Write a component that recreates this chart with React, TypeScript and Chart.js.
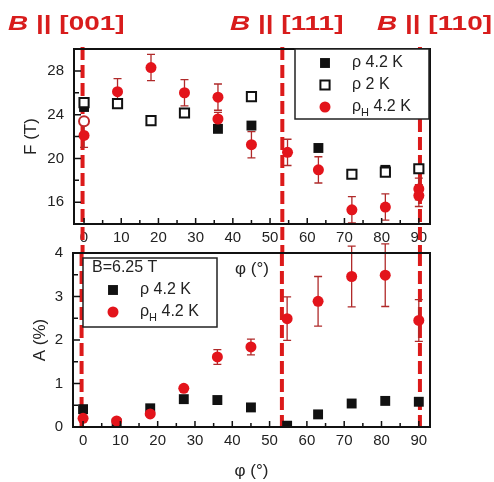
import React, { useEffect, useRef } from 'react';
import { Chart, registerables } from 'chart.js';

Chart.register(...registerables);

const FONT = "'Liberation Sans', Arial, sans-serif";
const RED = '#e3141b';
const ERR_COLOR = '#b02a2a';
const LINE_RED = '#dc1a1a';
const BLACK = '#111111';
const TEXT = '#222222';

// axis ticks
const xTicks = [0, 10, 20, 30, 40, 50, 60, 70, 80, 90];
const xMinorTicks = [5, 15, 25, 35, 45, 55, 65, 75, 85];
const fTicks = [16, 20, 24, 28];
const fMinorTicks = [18, 22, 26];
const aTicks = [0, 1, 2, 3, 4];
const aMinorTicks = [0.5, 1.5, 2.5, 3.5];

// field directions (dashed lines)
const fieldLines = [-0.4, 53.3, 90.3];
const fieldLabels = ['[001]', '[111]', '[110]'];

// top panel: F (T)
const fRho42Phi = [0, 36, 45, 63, 81];
const fRho42 = [24.7, 22.7, 23.0, 20.95, 18.95];
const fRho2Phi = [0, 9, 18, 27, 45, 72, 81, 90];
const fRho2 = [25.1, 25.0, 23.45, 24.15, 25.65, 18.55, 18.75, 19.05];
const fHallPhi = [0, 9, 18, 27, 36, 36, 45, 54.7, 63, 72, 81, 90, 90];
const fHall = [22.1, 26.1, 28.3, 26.0, 25.6, 23.6, 21.25, 20.55, 18.95, 15.3, 15.55, 17.2, 16.6];
const fHallErr = [1.1, 1.2, 1.2, 1.2, 1.2, 0.6, 1.2, 1.2, 1.2, 1.2, 1.2, 1.0, 1.0];
const fHallOpenPhi = [0];
const fHallOpen = [23.4];

// bottom panel: A (%)
const aPhi = [0, 9, 18, 27, 36, 45, 54.7, 63, 72, 81, 90];
const aRho = [0.41, 0.08, 0.43, 0.64, 0.62, 0.45, 0.03, 0.29, 0.54, 0.6, 0.58];
const aHall = [0.2, 0.14, 0.3, 0.89, 1.61, 1.84, 2.49, 2.89, 3.46, 3.49, 2.45];
const aHallErr = [0, 0, 0, 0.05, 0.17, 0.18, 0.5, 0.57, 0.7, 0.72, 0.48];

// legends
const topLegend = ['ρ 4.2 K', 'ρ 2 K', 'ρ_H 4.2 K'];
const bottomLegendHeader = 'B=6.25 T';
const bottomLegend = ['ρ 4.2 K', 'ρ_H 4.2 K'];

const pts = (xs: number[], ys: number[]) => xs.map((x, i) => ({ x, y: ys[i] }));

function drawRichText(ctx: CanvasRenderingContext2D, text: string, x: number, y: number, size: number) {
  ctx.textBaseline = 'middle';
  ctx.textAlign = 'left';
  ctx.fillStyle = TEXT;
  ctx.font = `${size}px ${FONT}`;
  const m = text.match(/^(.*?)_(\S)(.*)$/);
  if (!m) {
    ctx.fillText(text, x, y);
    return;
  }
  ctx.fillText(m[1], x, y);
  let cx = x + ctx.measureText(m[1]).width;
  ctx.font = `${Math.round(size * 0.68)}px ${FONT}`;
  ctx.fillText(m[2], cx, y + size * 0.38);
  cx += ctx.measureText(m[2]).width;
  ctx.font = `${size}px ${FONT}`;
  ctx.fillText(m[3], cx, y);
}

function drawMarker(ctx: CanvasRenderingContext2D, ds: any, x: number, y: number) {
  const r = ds.pointRadius;
  ctx.save();
  ctx.setLineDash([]);
  ctx.beginPath();
  if (ds.pointStyle === 'rect') {
    const s = Math.SQRT1_2 * r;
    ctx.rect(x - s, y - s, 2 * s, 2 * s);
  } else {
    ctx.arc(x, y, r, 0, Math.PI * 2);
  }
  ctx.fillStyle = ds.backgroundColor;
  ctx.fill();
  if (ds.borderWidth > 0) {
    ctx.lineWidth = ds.borderWidth;
    ctx.strokeStyle = ds.borderColor;
    ctx.stroke();
  }
  ctx.restore();
}

function makeScales(opts: {
  yMin: number; yMax: number; yTicks: number[]; yTitle: string; yTitlePad: number; yWidth: number;
  xHeight: number; xTitlePad: number;
}) {
  return {
    x: {
      type: 'linear' as const,
      min: -2.7,
      max: 93,
      afterBuildTicks: (a: any) => { a.ticks = xTicks.map((v) => ({ value: v })); },
      afterFit: (a: any) => { a.height = opts.xHeight; },
      grid: { display: false, drawTicks: false },
      border: { display: false },
      ticks: { padding: 5, autoSkip: false, maxRotation: 0, color: TEXT, font: { size: 15, family: FONT } },
      title: { display: true, text: 'φ (°)', color: TEXT, font: { size: 17, family: FONT }, padding: { top: 0, bottom: opts.xTitlePad } },
    },
    y: {
      type: 'linear' as const,
      min: opts.yMin,
      max: opts.yMax,
      afterBuildTicks: (a: any) => { a.ticks = opts.yTicks.map((v) => ({ value: v })); },
      afterFit: (a: any) => { a.width = opts.yWidth; },
      grid: { display: false, drawTicks: false },
      border: { display: false },
      ticks: { padding: 10, autoSkip: false, color: TEXT, font: { size: 15, family: FONT } },
      title: { display: true, text: opts.yTitle, color: TEXT, font: { size: 17, family: FONT }, padding: { top: opts.yTitlePad, bottom: 0 } },
    },
  };
}

function errorBarsPlugin() {
  return {
    id: 'errorBars',
    beforeDatasetsDraw(chart: any) {
      const { ctx, scales: { y } } = chart;
      ctx.save();
      ctx.strokeStyle = ERR_COLOR;
      ctx.lineWidth = 1.3;
      ctx.setLineDash([]);
      chart.data.datasets.forEach((ds: any, i: number) => {
        if (!ds.errors) return;
        const meta = chart.getDatasetMeta(i);
        meta.data.forEach((el: any, j: number) => {
          const e = ds.errors[j];
          if (!e) return;
          const v = ds.data[j].y;
          const y1 = y.getPixelForValue(v + e);
          const y2 = y.getPixelForValue(v - e);
          ctx.beginPath();
          ctx.moveTo(el.x, y1);
          ctx.lineTo(el.x, y2);
          ctx.moveTo(el.x - 4, y1);
          ctx.lineTo(el.x + 4, y1);
          ctx.moveTo(el.x - 4, y2);
          ctx.lineTo(el.x + 4, y2);
          ctx.stroke();
        });
      });
      ctx.restore();
    },
  };
}

function fieldLinesPlugin(getEnd: (chart: any) => number, startOffset: number) {
  return {
    id: 'fieldLines',
    beforeDatasetsDraw(chart: any) {
      const { ctx, chartArea: a, scales: { x } } = chart;
      const y0 = a.top - startOffset;
      const y1 = getEnd(chart);
      ctx.save();
      ctx.strokeStyle = LINE_RED;
      ctx.lineWidth = 4;
      ctx.setLineDash([13, 5]);
      fieldLines.forEach((v) => {
        const px = x.getPixelForValue(v);
        ctx.beginPath();
        ctx.moveTo(px, y0);
        ctx.lineTo(px, y1);
        ctx.stroke();
      });
      ctx.restore();
    },
  };
}

function frameLegendPlugin(cfg: {
  yMajor: number[]; yMinor: number[];
  legend: { anchor: 'right' | 'left'; dx: number; dy: number; w: number; h: number; header?: string; items: string[]; datasetIdx: number[] };
}) {
  return {
    id: 'frameLegend',
    afterDatasetsDraw(chart: any) {
      const { ctx, chartArea: a, scales: { x, y } } = chart;
      ctx.save();
      ctx.setLineDash([]);
      ctx.strokeStyle = BLACK;
      ctx.lineWidth = 1.5;
      ctx.beginPath();
      xTicks.forEach((v) => { const p = x.getPixelForValue(v); ctx.moveTo(p, a.bottom); ctx.lineTo(p, a.bottom - 6); });
      xMinorTicks.forEach((v) => { const p = x.getPixelForValue(v); ctx.moveTo(p, a.bottom); ctx.lineTo(p, a.bottom - 4); });
      cfg.yMajor.forEach((v) => { const p = y.getPixelForValue(v); ctx.moveTo(a.left, p); ctx.lineTo(a.left + 7, p); });
      cfg.yMinor.forEach((v) => { const p = y.getPixelForValue(v); ctx.moveTo(a.left, p); ctx.lineTo(a.left + 5, p); });
      ctx.stroke();
      ctx.lineWidth = 2;
      ctx.strokeRect(a.left, a.top, a.right - a.left, a.bottom - a.top);

      // legend
      const L = cfg.legend;
      const left = L.anchor === 'right' ? a.right - L.dx - L.w : a.left + L.dx;
      const top = a.top + L.dy;
      ctx.fillStyle = '#ffffff';
      ctx.fillRect(left, top, L.w, L.h);
      ctx.lineWidth = 1.5;
      ctx.strokeStyle = '#222';
      ctx.strokeRect(left, top, L.w, L.h);
      let rowY = top + 14;
      if (L.header) {
        drawRichText(ctx, L.header, left + 9, top + 10, 16);
        rowY = top + 32;
      }
      L.items.forEach((txt, k) => {
        const ds = chart.data.datasets[L.datasetIdx[k]];
        drawMarker(ctx, ds, left + 30, rowY);
        drawRichText(ctx, txt, left + 57, rowY, 16);
        rowY += 22;
      });
      ctx.restore();
    },
  };
}

const titleStyle = (left: number): React.CSSProperties => ({
  position: 'absolute',
  left,
  top: 11,
  fontFamily: FONT,
  fontWeight: 'bold',
  fontSize: 21,
  lineHeight: '24px',
  color: '#d81c1c',
  whiteSpace: 'nowrap',
  transform: 'scaleX(1.33)',
  transformOrigin: 'left center',
});

export default function App() {
  const topRef = useRef<HTMLCanvasElement>(null);
  const bottomRef = useRef<HTMLCanvasElement>(null);

  useEffect(() => {
    if (!topRef.current || !bottomRef.current) return;
    Chart.defaults.font.family = FONT;

    const bottomChart: any = new Chart(bottomRef.current, {
      type: 'scatter',
      data: {
        datasets: [
          { label: 'ρH 4.2 K', data: pts(aPhi, aHall), pointStyle: 'circle', pointRadius: 5.5, backgroundColor: RED, borderColor: RED, borderWidth: 0, errors: aHallErr } as any,
          { label: 'ρ 4.2 K', data: pts(aPhi, aRho), pointStyle: 'rect', pointRadius: 7, backgroundColor: BLACK, borderColor: BLACK, borderWidth: 0 } as any,
        ],
      },
      options: {
        responsive: false,
        animation: false,
        devicePixelRatio: 1,
        events: [],
        layout: { padding: { left: 0, right: 64, top: 253, bottom: 0 } },
        plugins: { legend: { display: false }, tooltip: { enabled: false } },
        scales: makeScales({ yMin: 0, yMax: 4, yTicks: aTicks, yTitle: 'A (%)', yTitlePad: 30, yWidth: 73, xHeight: 55, xTitlePad: 0 }) as any,
      },
      plugins: [
        fieldLinesPlugin((c) => c.chartArea.bottom + 2, 0),
        errorBarsPlugin(),
        frameLegendPlugin({
          yMajor: aTicks, yMinor: aMinorTicks,
          legend: { anchor: 'left', dx: 10, dy: 5, w: 134, h: 69, header: bottomLegendHeader, items: bottomLegend, datasetIdx: [1, 0] },
        }),
      ],
    });

    const topChart: any = new Chart(topRef.current, {
      type: 'scatter',
      data: {
        datasets: [
          { label: 'ρH 4.2 K', data: pts(fHallPhi, fHall), pointStyle: 'circle', pointRadius: 5.5, backgroundColor: RED, borderColor: RED, borderWidth: 0, errors: fHallErr } as any,
          { label: 'ρH open', data: pts(fHallOpenPhi, fHallOpen), pointStyle: 'circle', pointRadius: 5, backgroundColor: '#ffffff', borderColor: '#c0282a', borderWidth: 2 } as any,
          { label: 'ρ 2 K', data: pts(fRho2Phi, fRho2), pointStyle: 'rect', pointRadius: 6.5, backgroundColor: '#ffffff', borderColor: BLACK, borderWidth: 2 } as any,
          { label: 'ρ 4.2 K', data: pts(fRho42Phi, fRho42), pointStyle: 'rect', pointRadius: 7, backgroundColor: BLACK, borderColor: BLACK, borderWidth: 0 } as any,
        ],
      },
      options: {
        responsive: false,
        animation: false,
        devicePixelRatio: 1,
        events: [],
        layout: { padding: { left: 0, right: 64, top: 49, bottom: 198 } },
        plugins: { legend: { display: false }, tooltip: { enabled: false } },
        scales: makeScales({ yMin: 14, yMax: 30, yTicks: fTicks, yTitle: 'F (T)', yTitlePad: 21, yWidth: 74, xHeight: 60, xTitlePad: 4 }) as any,
      },
      plugins: [
        fieldLinesPlugin(() => bottomChart.chartArea.top, 2),
        errorBarsPlugin(),
        frameLegendPlugin({
          yMajor: fTicks, yMinor: fMinorTicks,
          legend: { anchor: 'right', dx: 1, dy: 0, w: 134, h: 70, items: topLegend, datasetIdx: [3, 2, 0] },
        }),
      ],
    });

    return () => {
      topChart.destroy();
      bottomChart.destroy();
    };
  }, []);

  const canvasStyle: React.CSSProperties = { position: 'absolute', left: 0, top: 0, width: 494, height: 482 };
  const titleLefts = [8, 230, 377];

  return (
    <div style={{ position: 'fixed', left: 0, top: 0, width: 494, height: 482, background: '#ffffff', overflow: 'hidden' }}>
      <canvas ref={topRef} width={494} height={482} style={canvasStyle} />
      <canvas ref={bottomRef} width={494} height={482} style={canvasStyle} />
      {fieldLabels.map((lab, i) => (
        <div key={lab} style={titleStyle(titleLefts[i])}>
          <i>B</i> || {lab}
        </div>
      ))}
    </div>
  );
}
